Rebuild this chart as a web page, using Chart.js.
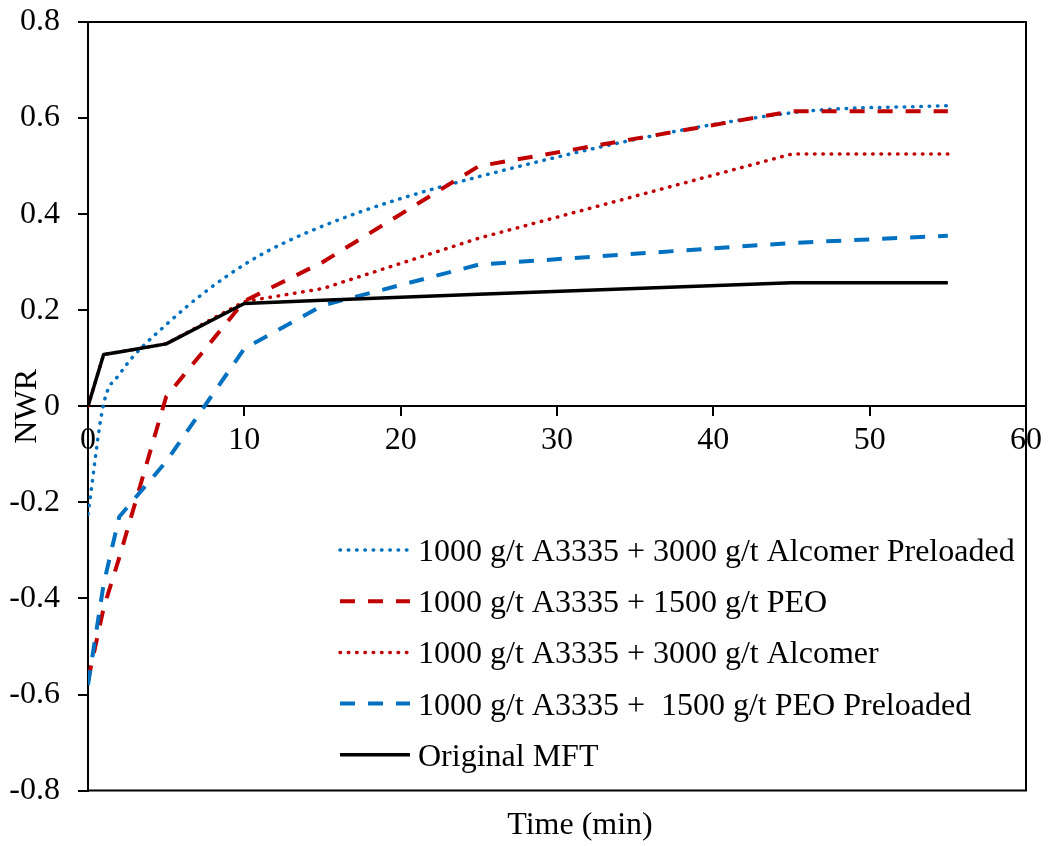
<!DOCTYPE html>
<html>
<head>
<meta charset="utf-8">
<script src="https://cdn.jsdelivr.net/npm/chart.js@4/dist/chart.umd.min.js"></script>
<style>
  html, body { margin: 0; padding: 0; background: #fff; }
  #wrap { width: 1048px; height: 846px; }
</style>
</head>
<body>
<div id="wrap"><canvas id="chart" width="1048" height="846"></canvas></div>
<script>
// sampling times (min)
const times = [0, 1, 2, 5, 10, 15, 25, 45, 55];

// NWR values
const alcomerPreloaded = [-0.224, 0.005, 0.066, 0.17, 0.295, 0.375, 0.478, 0.611, 0.626];
const peo = [-0.57, -0.42, -0.315, 0.02, 0.219, 0.30, 0.50, 0.614, 0.614];
const alcomer = [0, 0.108, 0.113, 0.13, 0.218, 0.245, 0.35, 0.525, 0.525];
const peoPreloaded = [-0.58, -0.37, -0.23, -0.115, 0.12, 0.21, 0.295, 0.34, 0.355];
const originalMft = [0, 0.108, 0.113, 0.13, 0.214, 0.221, 0.233, 0.257, 0.257];

const seriesLabels = [
    '1000 g/t A3335 + 3000 g/t Alcomer Preloaded',
    '1000 g/t A3335 + 1500 g/t PEO',
    '1000 g/t A3335 + 3000 g/t Alcomer',
    '1000 g/t A3335 +  1500 g/t PEO Preloaded',
    'Original MFT'
];

const yTickLabels = ['-0.8', '-0.6', '-0.4', '-0.2', '0', '0.2', '0.4', '0.6', '0.8'];
const xTickLabels = ['0', '10', '20', '30', '40', '50', '60'];

const BLUE = '#0070C0';
const RED = '#C00000';
const FONT = "'Liberation Serif', 'Times New Roman', serif";
const FONT_SIZE = 32;

Chart.defaults.font.family = FONT;
Chart.defaults.font.size = FONT_SIZE;
Chart.defaults.color = '#000';

const toPoints = (ys) => ys.map((y, i) => ({ x: times[i], y }));

// legend drawn inside the plot, lower right
const insideLegend = {
    id: 'insideLegend',
    afterDraw(chart) {
        const { ctx } = chart;
        chart.data.datasets.forEach((ds, i) => {
            const y = 550 + i * 51.2;
            ctx.save();
            ctx.strokeStyle = ds.borderColor;
            ctx.lineWidth = ds.borderWidth;
            ctx.lineCap = ds.borderCapStyle || 'butt';
            ctx.setLineDash(ds.borderDash || []);
            ctx.beginPath();
            ctx.moveTo(340, y);
            ctx.lineTo(410, y);
            ctx.stroke();
            ctx.setLineDash([]);
            ctx.fillStyle = '#000';
            ctx.font = FONT_SIZE + 'px ' + FONT;
            ctx.textBaseline = 'alphabetic';
            ctx.fillText(ds.label, 418, y + 11);
            ctx.restore();
        });
    }
};

// plot border (top, right, bottom)
const frame = {
    id: 'frame',
    afterLayout(chart) {
        // the x title sits a little right of the plot centre in the original
        const t = chart.scales.x2;
        t.left += 23;
        t.right += 23;
    },
    afterDraw(chart) {
        const { ctx, chartArea: a } = chart;
        ctx.save();
        ctx.strokeStyle = '#000';
        ctx.lineWidth = 2;
        ctx.beginPath();
        ctx.moveTo(a.left, a.top);
        ctx.lineTo(a.right, a.top);
        ctx.lineTo(a.right, a.bottom);
        ctx.lineTo(a.left, a.bottom);
        ctx.stroke();
        ctx.restore();
    }
};

const dotted = (color) => ({ borderColor: color, borderWidth: 3.5, borderDash: [0.5, 7.8], borderCapStyle: 'round' });
const dashed = (color) => ({ borderColor: color, borderWidth: 4, borderDash: [15, 13], borderCapStyle: 'butt' });

const datasets = [
    { label: seriesLabels[0], data: toPoints(alcomerPreloaded), ...dotted(BLUE), cubicInterpolationMode: 'monotone' },
    { label: seriesLabels[1], data: toPoints(peo), ...dashed(RED), tension: 0 },
    { label: seriesLabels[2], data: toPoints(alcomer), ...dotted(RED), tension: 0 },
    { label: seriesLabels[3], data: toPoints(peoPreloaded), ...dashed(BLUE), tension: 0 },
    { label: seriesLabels[4], data: toPoints(originalMft), borderColor: '#000', borderWidth: 3.5, tension: 0 }
].map((ds, i, all) => ({
    ...ds,
    order: all.length - 1 - i,
    pointRadius: 0,
    borderJoinStyle: 'round',
    fill: false
}));

new Chart(document.getElementById('chart'), {
    type: 'line',
    data: { datasets },
    options: {
        responsive: false,
        animation: false,
        events: [],
        layout: { padding: { top: 22, right: 22, bottom: 0, left: 0 } },
        plugins: {
            legend: { display: false },
            tooltip: { enabled: false }
        },
        scales: {
            x: {
                type: 'linear',
                position: { y: 0 },
                min: 0,
                max: 60,
                afterFit: (scale) => { scale.height = 0; scale.paddingLeft = 0; scale.paddingRight = 0; },
                afterBuildTicks: (scale) => { scale.ticks = xTickLabels.map(Number).map(v => ({ value: v })); },
                ticks: {
                    autoSkip: false,
                    maxRotation: 0,
                    padding: 6,
                    callback: (v, i) => xTickLabels[i]
                },
                grid: { drawOnChartArea: false, tickLength: 9, tickColor: '#000', lineWidth: 2 },
                border: { color: '#000', width: 2 }
            },
            x2: {
                type: 'linear',
                position: 'bottom',
                min: 0,
                max: 60,
                afterFit: (scale) => { scale.paddingLeft = 0; scale.paddingRight = 0; },
                ticks: { display: false },
                grid: { display: false, drawTicks: false },
                border: { display: false },
                title: { display: true, text: 'Time (min)', padding: { top: 16, bottom: 1 } }
            },
            y: {
                min: -0.8,
                max: 0.8,
                afterFit: (scale) => { scale.width = 88; scale.paddingTop = 0; scale.paddingBottom = 0; },
                afterBuildTicks: (scale) => { scale.ticks = yTickLabels.map(Number).map(v => ({ value: v })); },
                ticks: {
                    padding: 18,
                    callback: (v, i) => yTickLabels[i]
                },
                grid: { drawOnChartArea: false, tickLength: 10, tickColor: '#000', lineWidth: 2 },
                border: { color: '#000', width: 2 },
                title: { display: true, text: 'NWR', padding: { top: 8, bottom: 0 } }
            }
        }
    },
    plugins: [insideLegend, frame]
});
</script>
</body>
</html>
